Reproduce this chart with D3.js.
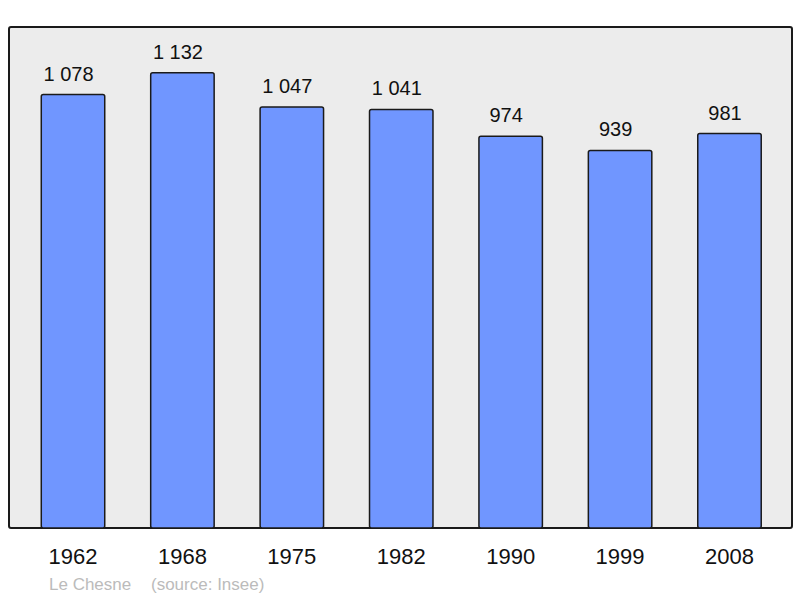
<!DOCTYPE html>
<html>
<head>
<meta charset="utf-8">
<script src="https://cdn.jsdelivr.net/npm/d3@7"></script>
<style>
  body { margin: 0; background: #fff; }
  text { font-family: "Liberation Sans", Arial, sans-serif; }
</style>
</head>
<body>
<div id="chart"></div>
<script>
const years = ["1962", "1968", "1975", "1982", "1990", "1999", "2008"];
const population = [1078, 1132, 1047, 1041, 974, 939, 981];
const valueLabels = ["1 078", "1 132", "1 047", "1 041", "974", "939", "981"];
const commune = "Le Chesne";
const source = "(source: Insee)";

let w = 800;
let h = 598;
let frameLeft = 9;
let frameRight = 792;
let frameTop = 27;
let frameBottom = 528;

let x = d3
  .scaleBand()
  .domain(years)
  .range([18.3, 784.2])
  .paddingInner(0.42)
  .paddingOuter(0.21);

let y = d3
  .scaleLinear()
  .domain([0, 1246])
  .range([frameBottom, frameTop]);

let svg = d3
  .select("#chart")
  .append("svg")
  .attr("width", w)
  .attr("height", h);

svg
  .append("rect")
  .attr("x", frameLeft)
  .attr("y", frameTop)
  .attr("width", frameRight - frameLeft)
  .attr("height", frameBottom - frameTop)
  .attr("rx", 2)
  .attr("fill", "#ececec")
  .attr("stroke", "#1a1a1a")
  .attr("stroke-width", 2);

let data = years.map(function (d, i) {
  return { year: d, value: population[i], label: valueLabels[i] };
});

svg
  .append("g")
  .selectAll("rect")
  .data(data)
  .enter()
  .append("rect")
  .attr("x", function (d) {
    return x(d.year);
  })
  .attr("y", function (d) {
    return y(d.value);
  })
  .attr("width", x.bandwidth())
  .attr("height", function (d) {
    return frameBottom - y(d.value);
  })
  .attr("rx", 2)
  .attr("fill", "#7096ff")
  .attr("stroke", "#1a1a1a")
  .attr("stroke-width", 1.5);

// value labels sit a little left of the bar centre, as in the original
svg
  .append("g")
  .selectAll("text")
  .data(data)
  .enter()
  .append("text")
  .attr("text-anchor", "middle")
  .attr("x", function (d) {
    return x(d.year) + x.bandwidth() / 2 - 4.5;
  })
  .attr("y", function (d) {
    return y(d.value) - 14;
  })
  .attr("font-size", 20)
  .attr("fill", "#111")
  .text(function (d) {
    return d.label;
  });

// bottom axis, labels only
let xAxis = d3.axisBottom(x).tickSize(0).tickPadding(0);
let axis = svg
  .append("g")
  .attr("transform", `translate(0,${frameBottom})`)
  .call(xAxis);
axis.select(".domain").remove();
axis
  .selectAll("text")
  .attr("dy", null)
  .attr("y", 36)
  .attr("font-size", 22)
  .attr("font-family", '"Liberation Sans", Arial, sans-serif')
  .attr("fill", "#111");

svg
  .append("text")
  .attr("x", 49)
  .attr("y", 590)
  .attr("font-size", 17)
  .attr("fill", "#bbbbbb")
  .text(commune);

svg
  .append("text")
  .attr("x", 151)
  .attr("y", 590)
  .attr("font-size", 17)
  .attr("fill", "#bbbbbb")
  .text(source);
</script>
</body>
</html>
